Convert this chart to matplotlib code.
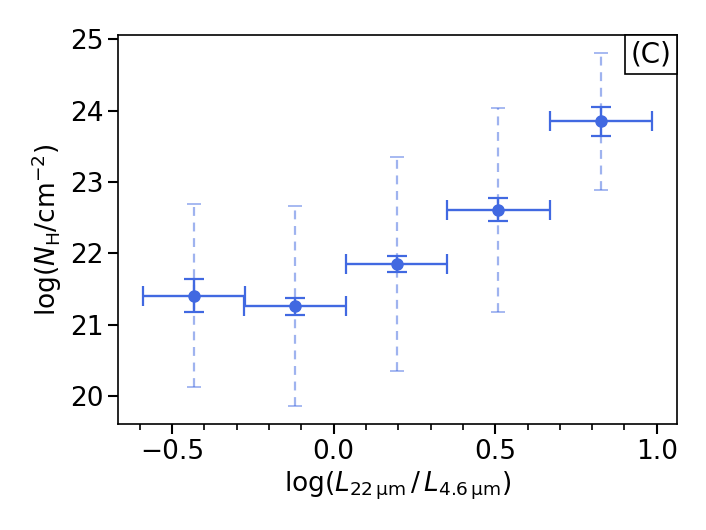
import numpy as np
import matplotlib
matplotlib.use("Agg")
import matplotlib.pyplot as plt
from matplotlib.offsetbox import AnchoredText
from matplotlib.ticker import MultipleLocator

# Binned values
x_center = [-0.432, -0.119, 0.195, 0.510, 0.826]
x_halfwidth = [0.157, 0.157, 0.157, 0.158, 0.158]
nh_median = [21.41, 21.26, 21.85, 22.61, 23.86]
nh_err_lo = [0.23, 0.12, 0.11, 0.15, 0.21]
nh_err_hi = [0.23, 0.12, 0.11, 0.16, 0.19]
nh_spread_lo = [1.28, 1.40, 1.49, 1.43, 0.97]
nh_spread_hi = [1.28, 1.41, 1.50, 1.43, 0.95]

color = "royalblue"

plt.rcParams["font.size"] = 19
fig = plt.figure(figsize=(7.06, 5.3), dpi=100)
ax = fig.add_axes([0.167, 0.2, 0.792, 0.734])

# Spread of the sample (dashed, lighter)
eb = ax.errorbar(x_center, nh_median, yerr=[nh_spread_lo, nh_spread_hi], fmt="none",
                 ecolor=color, alpha=0.5, elinewidth=1.6, capsize=5, capthick=1.3)
eb[2][0].set_linestyle((0, (4, 3)))

# Bin widths and uncertainty on the median
ax.errorbar(x_center, nh_median, xerr=x_halfwidth, yerr=[nh_err_lo, nh_err_hi], fmt="o",
            color=color, ms=8, elinewidth=1.7, capsize=7, capthick=1.6)

ax.set_xlabel(r"log($L_{22\,\mathrm{\mu m}}\,/\,L_{4.6\,\mathrm{\mu m}}$)", labelpad=4)
ax.set_ylabel(r"log($N_\mathrm{H}$/cm$^{-2}$)", labelpad=4)

ax.xaxis.set_major_locator(MultipleLocator(0.5))
ax.xaxis.set_minor_locator(MultipleLocator(0.1))
ax.yaxis.set_major_locator(MultipleLocator(1))
ax.tick_params(which="major", length=7, width=1.5)
ax.tick_params(which="minor", length=4, width=1.2)
for s in ax.spines.values():
    s.set_linewidth(1.2)

at = AnchoredText("(C)", loc="upper right", borderpad=0, pad=0.2, prop=dict(size=20))
at.patch.set_boxstyle("square,pad=0.")
at.patch.set_linewidth(1.2)
ax.add_artist(at)

fig.savefig("out.png", dpi=100)
